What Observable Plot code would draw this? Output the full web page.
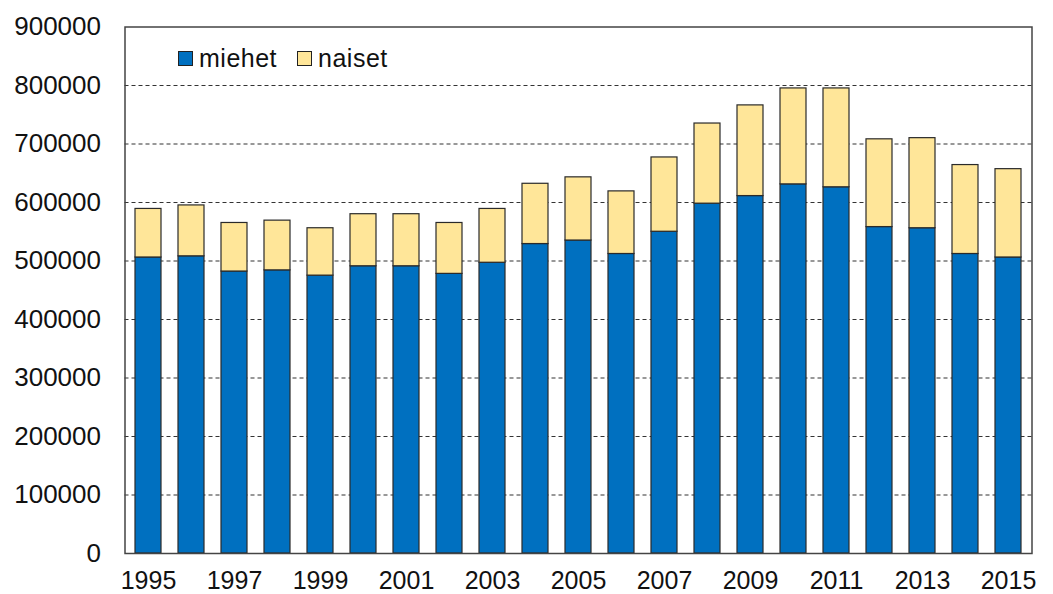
<!DOCTYPE html>
<html>
<head>
<meta charset="utf-8">
<script src="https://cdn.jsdelivr.net/npm/d3@7"></script>
<script src="https://cdn.jsdelivr.net/npm/@observablehq/plot@0.6"></script>
<style>
  html, body { margin: 0; padding: 0; background: #fff; }
  #wrap { position: relative; width: 1053px; height: 594px; font-family: "Liberation Sans", Arial, sans-serif; }
  #legend { position: absolute; left: 178px; top: 44px; display: flex; align-items: center; font-size: 25px; color: #111; letter-spacing: 0.5px; }
  .sw { width: 13px; height: 13px; border: 1px solid #222; display: inline-block; margin-right: 6px; }
  .item { display: flex; align-items: center; margin-right: 20px; }
</style>
</head>
<body>
<div id="wrap"><div id="legend"></div></div>
<script>
const years = [1995,1996,1997,1998,1999,2000,2001,2002,2003,2004,2005,2006,2007,2008,2009,2010,2011,2012,2013,2014,2015];
const miehet = [506000,508000,482000,484000,475000,491000,491000,478000,497000,529000,535000,512000,550000,598000,611000,631000,626000,558000,556000,512000,506000];
const naiset = [83000,87000,83000,85000,81000,89000,89000,87000,92000,103000,108000,107000,127000,137000,155000,164000,169000,150000,154000,152000,151000];
const seriesNames = ["miehet", "naiset"];
const seriesColors = ["#0070C0", "#FFE699"];
const yTicks = [0,100000,200000,300000,400000,500000,600000,700000,800000,900000];
const gridTicks = [100000,200000,300000,400000,500000,600000,700000,800000];
const xTicks = [1995,1997,1999,2001,2003,2005,2007,2009,2011,2013,2015];

const rows = [];
years.forEach((y, i) => {
  rows.push({year: y, series: "miehet", value: miehet[i]});
  rows.push({year: y, series: "naiset", value: naiset[i]});
});

const chart = Plot.plot({
  width: 1053,
  height: 594,
  marginLeft: 124.5,
  marginRight: 21.5,
  marginTop: 26.5,
  marginBottom: 41,
  style: {fontFamily: "'Liberation Sans', Arial, sans-serif", fontSize: "25px", color: "#111", background: "#fff", overflow: "visible"},
  x: {domain: years, paddingInner: 0.4, paddingOuter: 0.2, label: null},
  y: {domain: [0, 900000], label: null},
  color: {domain: seriesNames, range: seriesColors},
  marks: [
    Plot.ruleY(gridTicks, {stroke: "#333", strokeWidth: 1.2, strokeDasharray: "4,3", strokeOpacity: 1}),
    Plot.barY(rows, {x: "year", y: "value", fill: "series", stroke: "#2a2a2a", strokeWidth: 1.2, order: seriesNames}),
    Plot.frame({stroke: "#444", strokeWidth: 1.5}),
    Plot.axisY({ticks: yTicks, tickSize: 0, tickPadding: 24, tickFormat: d => String(d), fontSize: 26, label: null}),
    Plot.axisX({ticks: xTicks, tickSize: 0, tickPadding: 18, tickFormat: d => String(d), fontSize: 25, label: null})
  ]
});
document.getElementById("wrap").appendChild(chart);
chart.style.position = "absolute";
chart.style.left = "0px";
chart.style.top = "0px";

const legend = document.getElementById("legend");
legend.style.zIndex = 2;
seriesNames.forEach((name, i) => {
  const item = document.createElement("div");
  item.className = "item";
  const sw = document.createElement("span");
  sw.className = "sw";
  sw.style.background = seriesColors[i];
  item.appendChild(sw);
  item.appendChild(document.createTextNode(name));
  legend.appendChild(item);
});
</script>
</body>
</html>
